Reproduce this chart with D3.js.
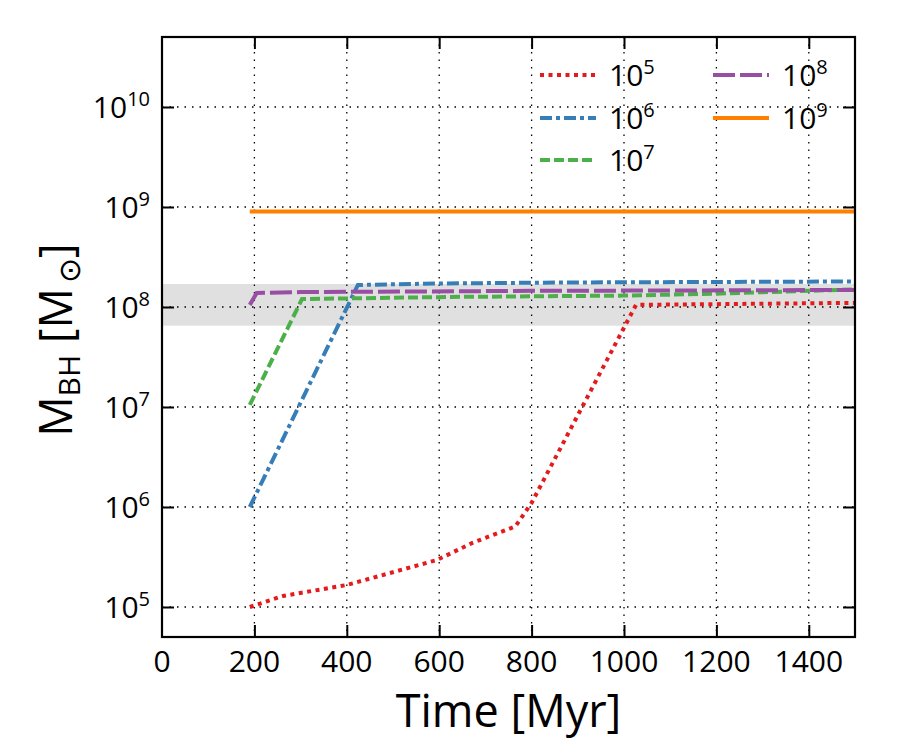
<!DOCTYPE html>
<html>
<head>
<meta charset="utf-8">
<script src="https://cdn.jsdelivr.net/npm/d3@7"></script>
<style>
  body { margin: 0; background: #fff; }
  text { font-family: "Open Sans", "DejaVu Sans", sans-serif; fill: #000; }
</style>
</head>
<body>
<script>
// chart size + plot box
var w = 900, h = 750;
var margin = { left: 162, top: 37, right: 45, bottom: 113 };
var iw = w - margin.left - margin.right, ih = h - margin.top - margin.bottom;

// seed masses (legend labels, exponent only)
var seeds = [5, 6, 7, 8, 9];
var colors = ["#e41a1c", "#377eb8", "#4daf4a", "#984ea3", "#ff7f00"];
var dashes = ["4,4.5", "12,4,4,4", "10,4", "22,5", null];

// time [Myr] and black hole mass [Msun]
var t5 = [190, 262, 400, 595, 673, 765, 800, 1026, 1500];
var m5 = [1.0e5, 1.29e5, 1.66e5, 2.95e5, 4.4e5, 6.4e5, 1.1e6, 1.05e8, 1.1e8];
var t6 = [190, 424, 600, 900, 1500];
var m6 = [1.0e6, 1.66e8, 1.72e8, 1.76e8, 1.8e8];
var t7 = [190, 303, 620, 1000, 1200, 1500];
var m7 = [1.05e7, 1.2e8, 1.26e8, 1.3e8, 1.36e8, 1.5e8];
var t8 = [190, 205, 300, 800, 1500];
var m8 = [1.05e8, 1.38e8, 1.41e8, 1.45e8, 1.48e8];
var t9 = [190, 1500];
var m9 = [9.0e8, 9.0e8];

var times = [t5, t6, t7, t8, t9];
var masses = [m5, m6, m7, m8, m9];

// observed mass range (grey band)
var band = [6.5e7, 1.7e8];

var xTicks = [0, 200, 400, 600, 800, 1000, 1200, 1400];
var yExps = [5, 6, 7, 8, 9, 10];

window.onload = function(){
    var svg = d3.select("body").append("svg")
        .attr("width", w)
        .attr("height", h);

    var g = svg.append("g")
        .attr("transform", "translate(" + margin.left + "," + margin.top + ")");

    var x = d3.scaleLinear().domain([0, 1500]).range([0, iw]);
    var y = d3.scaleLog().domain([Math.pow(10, 4.7), Math.pow(10, 10.7)]).range([ih, 0]);

    g.append("defs").append("clipPath").attr("id", "clip")
        .append("rect").attr("width", iw).attr("height", ih);

    // grey band
    g.append("rect")
        .attr("x", 0)
        .attr("width", iw)
        .attr("y", y(band[1]))
        .attr("height", y(band[0]) - y(band[1]))
        .style("fill", "#e0e0e0");

    // dotted grid
    g.selectAll(".gx").data(xTicks.slice(1)).enter().append("line")
        .attr("x1", function(d){ return x(d); })
        .attr("x2", function(d){ return x(d); })
        .attr("y1", 0).attr("y2", ih)
        .style("stroke", "#000").style("stroke-width", 1.3)
        .style("stroke-dasharray", "1.5,6");
    g.selectAll(".gy").data(yExps).enter().append("line")
        .attr("x1", 0).attr("x2", iw)
        .attr("y1", function(d){ return y(Math.pow(10, d)); })
        .attr("y2", function(d){ return y(Math.pow(10, d)); })
        .style("stroke", "#000").style("stroke-width", 1.3)
        .style("stroke-dasharray", "1.5,6");

    // the tracks
    var line = d3.line()
        .x(function(d){ return x(d[0]); })
        .y(function(d){ return y(d[1]); });

    seeds.forEach(function(s, i){
        var pts = times[i].map(function(t, j){ return [t, masses[i][j]]; });
        g.append("path")
            .datum(pts)
            .attr("d", line)
            .attr("clip-path", "url(#clip)")
            .style("fill", "none")
            .style("stroke", colors[i])
            .style("stroke-width", 4)
            .style("stroke-dasharray", dashes[i]);
    });

    // axes: ticks pointing in, on all four sides
    var minor = [];
    for (var e = 4; e <= 10; e++) {
        for (var k = 2; k <= 9; k++) {
            var v = k * Math.pow(10, e);
            if (v > y.domain()[0] && v < y.domain()[1]) minor.push(v);
        }
    }
    var majorY = yExps.map(function(d){ return Math.pow(10, d); });

    function yAxis(gen, off){
        var a = g.append("g").attr("transform", "translate(" + off + ",0)");
        a.call(gen(y).tickValues(minor).tickSize(-6).tickFormat(""));
        a.call(gen(y).tickValues(majorY).tickSize(-12).tickFormat(""));
        return a;
    }
    function xAxis(gen, off){
        var a = g.append("g").attr("transform", "translate(0," + off + ")");
        a.call(gen(x).tickValues(xTicks.slice(1)).tickSize(-12).tickFormat(""));
        return a;
    }
    var axes = [
        yAxis(d3.axisLeft, 0),
        yAxis(d3.axisRight, iw),
        xAxis(d3.axisBottom, ih),
        xAxis(d3.axisTop, 0)
    ];
    // axisRight/axisTop with negative size point outward, flip them
    axes[1].selectAll(".tick line").attr("x2", function(){ return -Math.abs(+d3.select(this).attr("x2")); });
    axes[3].selectAll(".tick line").attr("y2", function(){ return Math.abs(+d3.select(this).attr("y2")); });
    axes.forEach(function(a){
        a.select(".domain").remove();
        a.selectAll(".tick line").style("stroke", "#000").style("stroke-width", 2);
    });

    // frame
    g.append("rect")
        .attr("width", iw).attr("height", ih)
        .style("fill", "none").style("stroke", "#000").style("stroke-width", 2.2);

    // x tick labels
    g.selectAll(".xl").data(xTicks).enter().append("text")
        .attr("x", function(d){ return x(d); })
        .attr("y", ih + 35)
        .attr("text-anchor", "middle")
        .style("font-size", "30px")
        .text(function(d){ return d; });

    // y tick labels 10^n
    var yl = g.selectAll(".yl").data(yExps).enter().append("text")
        .attr("text-anchor", "end")
        .attr("x", -12)
        .attr("y", function(d){ return y(Math.pow(10, d)) + 11; })
        .style("font-size", "30px");
    yl.append("tspan").text("10");
    yl.append("tspan").attr("dy", -12).style("font-size", "20px")
        .text(function(d){ return d; });

    // axis titles
    svg.append("text")
        .attr("x", margin.left + iw / 2)
        .attr("y", 727)
        .attr("text-anchor", "middle")
        .style("font-size", "45px")
        .text("Time [Myr]");

    var ylab = svg.append("text")
        .attr("transform", "translate(72,340) rotate(-90)")
        .attr("text-anchor", "middle")
        .style("font-size", "45px");
    ylab.append("tspan").text("M");
    ylab.append("tspan").attr("dy", 8).style("font-size", "30px").text("BH");
    ylab.append("tspan").attr("dy", -8).text(" [M");
    ylab.append("tspan").attr("dy", 8).style("font-size", "30px").text("\u2009\u2299");
    ylab.append("tspan").attr("dy", -8).text("]");

    // legend, two columns
    var legX = [378, 551], legY = [38, 81, 123];
    var leg = g.selectAll(".leg").data(seeds).enter().append("g")
        .attr("transform", function(d, i){
            var col = i < 3 ? 0 : 1, row = i < 3 ? i : i - 3;
            return "translate(" + legX[col] + "," + legY[row] + ")";
        });
    leg.append("line")
        .attr("x1", 0).attr("x2", 56)
        .style("stroke", function(d, i){ return colors[i]; })
        .style("stroke-width", 4)
        .style("stroke-dasharray", function(d, i){ return dashes[i]; });
    var lt = leg.append("text")
        .attr("x", 69).attr("y", 11)
        .style("font-size", "30px");
    lt.append("tspan").text("10");
    lt.append("tspan").attr("dy", -12).style("font-size", "20px")
        .text(function(d){ return d; });
};
</script>
</body>
</html>
